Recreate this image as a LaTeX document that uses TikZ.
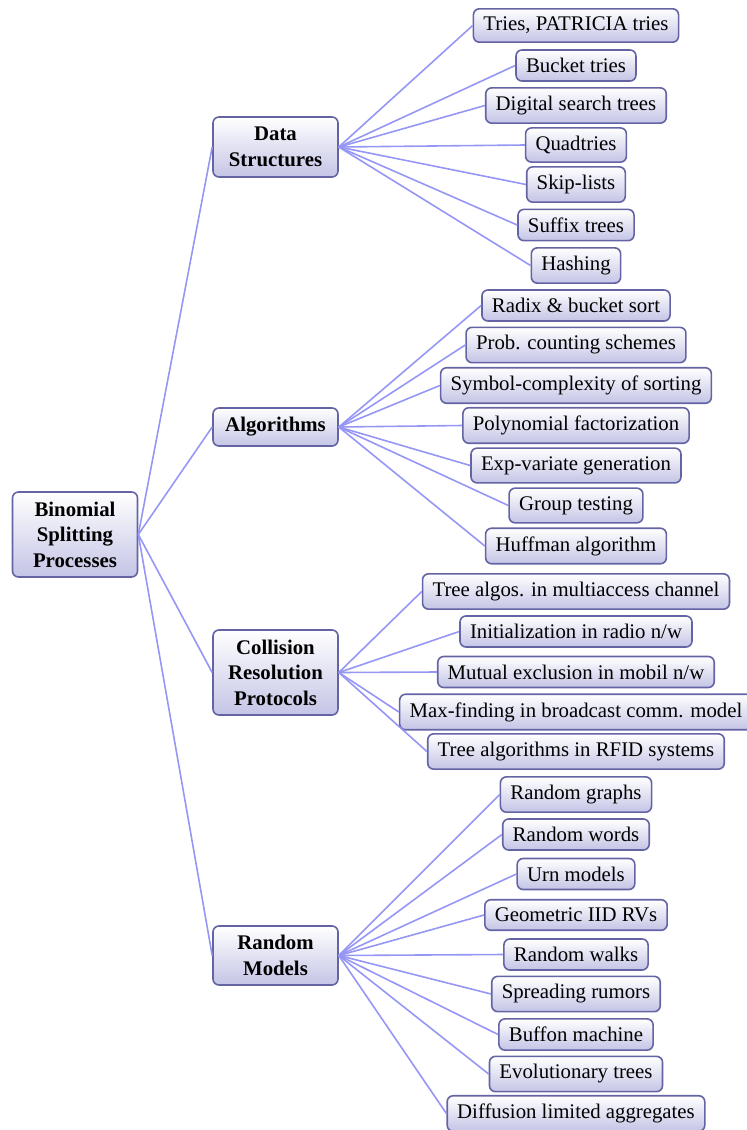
\documentclass[tikz,border=0pt]{standalone}
\usepackage{fontspec}
\setmainfont{Liberation Serif}
\definecolor{boxborder}{RGB}{100,100,165}
\definecolor{boxfill}{RGB}{196,196,230}
\definecolor{linkblue}{RGB}{150,150,245}
\tikzset{
  box/.style={draw=boxborder, line width=0.8pt, rounded corners=3pt,
    top color=white, bottom color=boxfill, inner xsep=5pt, inner ysep=4.1pt,
    font=\fontsize{10.4}{12.8}\selectfont},
  leaf/.style={box},
  hub/.style={box, font=\fontsize{10.4}{12.8}\selectfont\bfseries, align=center,
    minimum width=62.5pt, inner ysep=2pt},
  link/.style={draw=linkblue, line width=0.8pt}
}
\begin{document}
\begin{tikzpicture}[x=0.5pt,y=-0.5pt]
\useasboundingbox (0,0) rectangle (746,1130);
% root and hubs
\node[hub, minimum height=42.5pt] (root) at (75,534.5) {Binomial\\Splitting\\Processes};
\node[hub, minimum height=30pt] (ds) at (275.5,147) {Data\\Structures};
\node[hub, minimum height=19pt] (alg) at (275.5,427) {Algorithms};
\node[hub, minimum height=42.5pt] (crp) at (275.5,672.5) {Collision\\Resolution\\Protocols};
\node[hub, minimum height=29.5pt] (rm) at (275.5,955.5) {Random\\Models};
% data structures
\node[leaf] (d1) at (576,25.5) {Tries, PATRICIA tries};
\node[leaf] (d2) at (576,65.5) {Bucket tries};
\node[leaf] (d3) at (576,105.5) {Digital search trees};
\node[leaf] (d4) at (576,145) {Quadtries};
\node[leaf] (d5) at (576,184.5) {Skip-lists};
\node[leaf] (d6) at (576,225) {Suffix trees};
\node[leaf] (d7) at (576,265.5) {Hashing};
% algorithms
\node[leaf] (a1) at (576,305.5) {Radix \& bucket sort};
\node[leaf] (a2) at (576,345) {Prob. counting schemes};
\node[leaf] (a3) at (576,385.5) {Symbol-complexity of sorting};
\node[leaf] (a4) at (576,425.5) {Polynomial factorization};
\node[leaf] (a5) at (576,465.5) {Exp-variate generation};
\node[leaf] (a6) at (576,505.5) {Group testing};
\node[leaf] (a7) at (576,546) {Huffman algorithm};
% collision resolution
\node[leaf] (c1) at (576,591.5) {Tree algos. in multiaccess channel};
\node[leaf] (c2) at (576,631.5) {Initialization in radio n/w};
\node[leaf] (c3) at (576,672) {Mutual exclusion in mobil n/w};
\node[leaf] (c4) at (576,712) {Max-finding in broadcast comm. model};
\node[leaf] (c5) at (576,751.5) {Tree algorithms in RFID systems};
% random models
\node[leaf] (r1) at (576,794.5) {Random graphs};
\node[leaf] (r2) at (576,834.5) {Random words};
\node[leaf] (r3) at (576,874) {Urn models};
\node[leaf] (r4) at (576,915) {Geometric IID RVs};
\node[leaf] (r5) at (576,954.5) {Random walks};
\node[leaf] (r6) at (576,994) {Spreading rumors};
\node[leaf] (r7) at (576,1034.5) {Buffon machine};
\node[leaf] (r8) at (576,1074) {Evolutionary trees};
\node[leaf] (r9) at (576,1113.5) {Diffusion limited aggregates};
% connectors
\foreach \h in {ds,alg,crp,rm} \draw[link] (root.east) -- (\h.west);
\foreach \l in {d1,d2,d3,d4,d5,d6,d7} \draw[link] (ds.east) -- (\l.west);
\foreach \l in {a1,a2,a3,a4,a5,a6,a7} \draw[link] (alg.east) -- (\l.west);
\foreach \l in {c1,c2,c3,c4,c5} \draw[link] (crp.east) -- (\l.west);
\foreach \l in {r1,r2,r3,r4,r5,r6,r7,r8,r9} \draw[link] (rm.east) -- (\l.west);
\end{tikzpicture}
\end{document}
